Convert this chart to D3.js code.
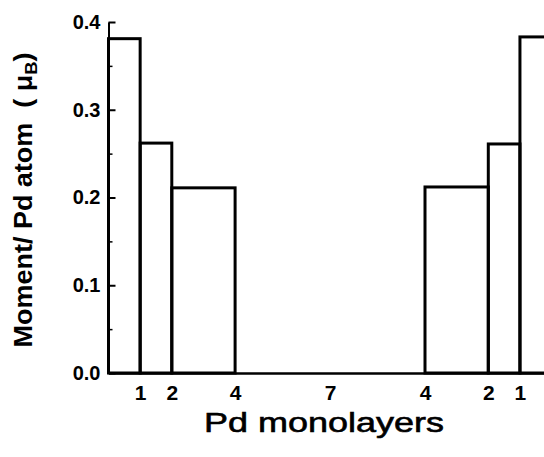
<!DOCTYPE html>
<html>
<head>
<meta charset="UTF-8">
<title>Pd moment</title>
<style>
body {
    margin: 0;
    background: #fff;
}

.tick text {
    font-family: "Liberation Sans", Arial, sans-serif;
    font-weight: bold;
    fill: #000;
}

.axis path,
.axis line {
    stroke: #000;
}

.step {
    fill: none;
    stroke: #000;
    stroke-width: 3px;
}

.title {
    font-family: "Liberation Sans", Arial, sans-serif;
    fill: #000;
}
</style>
</head>
<body>
<div class="chart"></div>
<script src="https://cdn.jsdelivr.net/npm/d3@7"></script>
<script>

// layer boundaries (in monolayers) and the moment on each segment
const edgeStart = [0, 1, 2, 10, 12, 13];
const edgeEnd = [1, 2, 4, 12, 13, 14];
const moments = [0.381, 0.262, 0.211, 0.212, 0.261, 0.383];

const xTickPos = [1, 2, 4, 7, 10, 12, 13];
const xTickLabels = ['1', '2', '4', '7', '4', '2', '1'];

const yTicks = [0, 0.1, 0.2, 0.3, 0.4];
const yMinor = [0.05, 0.15, 0.25, 0.35];

let width = 544, height = 457;

let svg = d3.select('.chart').append('svg')
    .attr('width', width)
    .attr('height', height);

svg.append('rect')
    .attr('width', width)
    .attr('height', height)
    .attr('fill', '#fff');

let xScale = d3.scaleLinear()
    .domain([0, 14])
    .range([108.5, 108.5 + 14 * 31.65]);

let yScale = d3.scaleLinear()
    .domain([0, 0.4])
    .range([373, 22]);

// bars as open steps
let segs = moments.map((m, i) => ({x0: edgeStart[i], x1: edgeEnd[i], v: m}));

svg.append('g')
    .selectAll('rect')
    .data(segs)
    .join('rect')
    .attr('class', 'step')
    .attr('x', d => xScale(d.x0))
    .attr('y', d => yScale(d.v))
    .attr('width', d => xScale(d.x1) - xScale(d.x0))
    .attr('height', d => yScale(0) - yScale(d.v));

// x axis: line plus labels, no tick marks
let xAxis = d3.axisBottom(xScale)
    .tickValues(xTickPos)
    .tickFormat((d, i) => xTickLabels[i])
    .tickSize(0)
    .tickPadding(12);

let gx = svg.append('g')
    .attr('class', 'axis')
    .attr('transform', 'translate(0,' + yScale(0) + ')')
    .call(xAxis);
gx.select('.domain').attr('stroke-width', 2.5);
gx.selectAll('.tick text').style('font-size', '21px');

// y axis with inward ticks
let yAxis = d3.axisLeft(yScale)
    .tickValues(yTicks)
    .tickFormat(d3.format('.1f'))
    .tickSize(-7)
    .tickSizeOuter(0)
    .tickPadding(8);

let gy = svg.append('g')
    .attr('class', 'axis')
    .attr('transform', 'translate(' + xScale(0) + ',0)')
    .call(yAxis);
gy.select('.domain').attr('stroke-width', 2);
gy.selectAll('.tick line').attr('stroke-width', 2);
gy.selectAll('.tick text').style('font-size', '20px');

let gyMinor = svg.append('g')
    .attr('class', 'axis')
    .attr('transform', 'translate(' + xScale(0) + ',0)')
    .call(d3.axisLeft(yScale).tickValues(yMinor).tickSize(-4).tickFormat(''));
gyMinor.select('.domain').remove();
gyMinor.selectAll('.tick line').attr('stroke-width', 1.5);

// axis titles
svg.append('text')
    .attr('class', 'title')
    .attr('x', 324)
    .attr('y', 432)
    .attr('text-anchor', 'middle')
    .attr('textLength', 240)
    .attr('lengthAdjust', 'spacingAndGlyphs')
    .style('font-size', '28px')
    .style('stroke', '#000')
    .style('stroke-width', '0.6px')
    .text('Pd monolayers');

let yt = svg.append('text')
    .attr('class', 'title')
    .attr('transform', 'translate(32,200) rotate(-90)')
    .attr('text-anchor', 'middle')
    .attr('textLength', 295)
    .attr('lengthAdjust', 'spacingAndGlyphs')
    .style('font-size', '25px')
    .style('font-weight', 'bold');
yt.append('tspan').text('Moment/ Pd atom\u00a0\u00a0(\u00a0\u03bc');
yt.append('tspan').attr('dy', 5).style('font-size', '17px').text('B');
yt.append('tspan').attr('dy', -5).text(')');

</script>
</body>
</html>
